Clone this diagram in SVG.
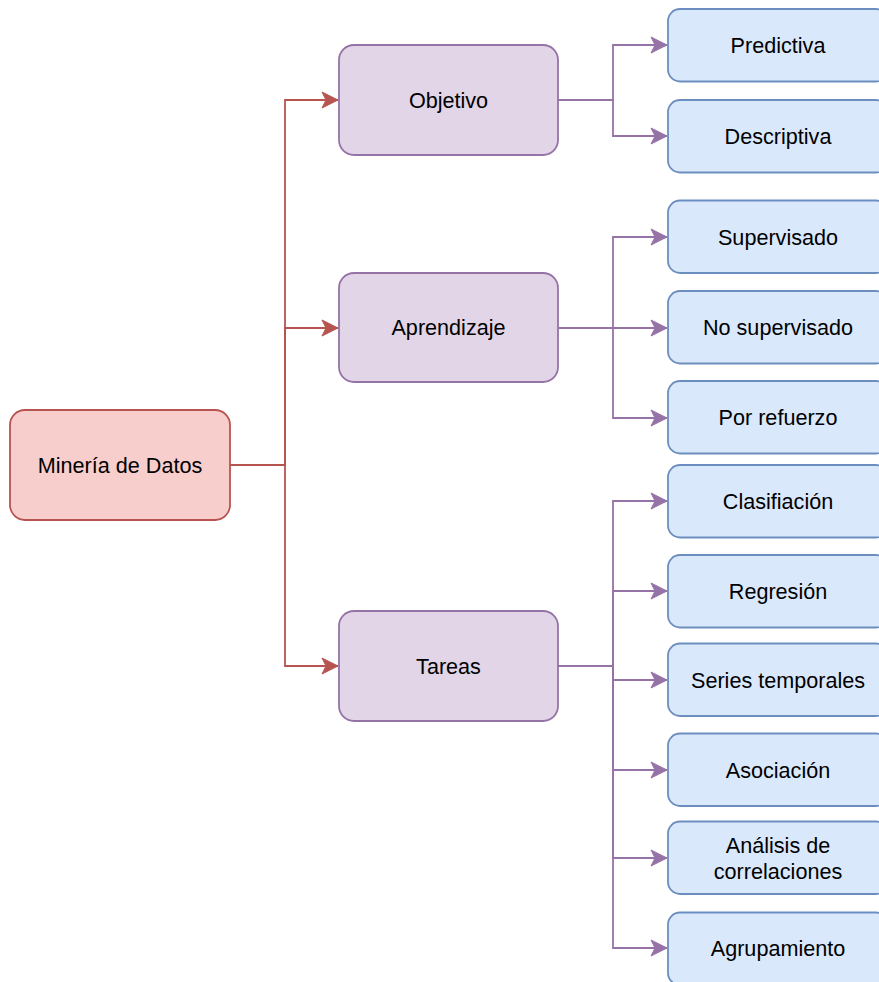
<svg xmlns="http://www.w3.org/2000/svg" width="879" height="982" viewBox="0 0 879 982">
  <style>
    .root rect { fill: #f8cecc; stroke: #b85450; stroke-width: 1.8; }
    .branch rect { fill: #e1d5e7; stroke: #9673a6; stroke-width: 1.8; }
    .leaf rect { fill: #dae8fc; stroke: #6c8ebf; stroke-width: 1.8; }
    text { font-family: "Liberation Sans", Arial, Helvetica, sans-serif; font-size: 21.6px; fill: #000; text-anchor: middle; }
    .red { fill: none; stroke: #b85450; stroke-width: 1.8; marker-end: url(#arrowRed); }
    .purple { fill: none; stroke: #9673a6; stroke-width: 1.8; marker-end: url(#arrowPurple); }
  </style>
  <defs>
    <marker id="arrowRed" markerUnits="userSpaceOnUse" viewBox="-17 -9 18 18" refX="0" refY="0" markerWidth="18" markerHeight="18" orient="auto">
      <path d="M0,0 L-16,-8 L-12,0 L-16,8 Z" fill="#b85450" stroke="#b85450" stroke-width="1"/>
    </marker>
    <marker id="arrowPurple" markerUnits="userSpaceOnUse" viewBox="-17 -9 18 18" refX="0" refY="0" markerWidth="18" markerHeight="18" orient="auto">
      <path d="M0,0 L-16,-8 L-12,0 L-16,8 Z" fill="#9673a6" stroke="#9673a6" stroke-width="1"/>
    </marker>
  </defs>

  <rect width="879" height="982" fill="#ffffff"/>

  <!-- connectors -->
  <g id="connectors">
    <path class="red" d="M230,465 H285 V100 H338"/>
    <path class="red" d="M230,465 H285 V328 H338"/>
    <path class="red" d="M230,465 H285 V666 H338"/>

    <path class="purple" d="M558,100 H613 V45 H667"/>
    <path class="purple" d="M558,100 H613 V136 H667"/>

    <path class="purple" d="M558,328 H613 V237 H667"/>
    <path class="purple" d="M558,328 H613 V328 H667"/>
    <path class="purple" d="M558,328 H613 V418 H667"/>

    <path class="purple" d="M558,666 H613 V501 H667"/>
    <path class="purple" d="M558,666 H613 V591 H667"/>
    <path class="purple" d="M558,666 H613 V680 H667"/>
    <path class="purple" d="M558,666 H613 V770 H667"/>
    <path class="purple" d="M558,666 H613 V858 H667"/>
    <path class="purple" d="M558,666 H613 V948 H667"/>
  </g>

  <!-- root -->
  <g id="mineria" class="root">
    <rect x="10" y="410" width="220" height="110" rx="15" ry="15"/>
    <text x="120" y="472.7">Minería de Datos</text>
  </g>

  <!-- second level -->
  <g id="objetivo" class="branch">
    <rect x="339" y="45" width="219" height="110" rx="15" ry="15"/>
    <text x="448.5" y="107.7">Objetivo</text>
  </g>
  <g id="aprendizaje" class="branch">
    <rect x="339" y="273" width="219" height="109" rx="15" ry="15"/>
    <text x="448.5" y="335.2">Aprendizaje</text>
  </g>
  <g id="tareas" class="branch">
    <rect x="339" y="611" width="219" height="110" rx="15" ry="15"/>
    <text x="448.5" y="673.7">Tareas</text>
  </g>

  <!-- leaves -->
  <g id="predictiva" class="leaf">
    <rect x="668" y="9" width="220" height="72.5" rx="12" ry="12"/>
    <text x="778" y="52.7">Predictiva</text>
  </g>
  <g id="descriptiva" class="leaf">
    <rect x="668" y="100" width="220" height="72.5" rx="12" ry="12"/>
    <text x="778" y="143.7">Descriptiva</text>
  </g>
  <g id="supervisado" class="leaf">
    <rect x="668" y="200.5" width="220" height="72.5" rx="12" ry="12"/>
    <text x="778" y="244.5">Supervisado</text>
  </g>
  <g id="no-supervisado" class="leaf">
    <rect x="668" y="291" width="220" height="72.5" rx="12" ry="12"/>
    <text x="778" y="335">No supervisado</text>
  </g>
  <g id="por-refuerzo" class="leaf">
    <rect x="668" y="381" width="220" height="72.5" rx="12" ry="12"/>
    <text x="778" y="425">Por refuerzo</text>
  </g>
  <g id="clasificacion" class="leaf">
    <rect x="668" y="465" width="220" height="72.5" rx="12" ry="12"/>
    <text x="778" y="509">Clasifiación</text>
  </g>
  <g id="regresion" class="leaf">
    <rect x="668" y="555" width="220" height="72.5" rx="12" ry="12"/>
    <text x="778" y="599">Regresión</text>
  </g>
  <g id="series-temporales" class="leaf">
    <rect x="668" y="643.5" width="220" height="72.5" rx="12" ry="12"/>
    <text x="778" y="687.5">Series temporales</text>
  </g>
  <g id="asociacion" class="leaf">
    <rect x="668" y="733.5" width="220" height="72.5" rx="12" ry="12"/>
    <text x="778" y="777.5">Asociación</text>
  </g>
  <g id="analisis-correlaciones" class="leaf">
    <rect x="668" y="821.5" width="220" height="72.5" rx="12" ry="12"/>
    <text x="778" y="853">Análisis de</text>
    <text x="778" y="878.5">correlaciones</text>
  </g>
  <g id="agrupamiento" class="leaf">
    <rect x="668" y="912.5" width="220" height="72.5" rx="12" ry="12"/>
    <text x="778" y="956">Agrupamiento</text>
  </g>
</svg>
